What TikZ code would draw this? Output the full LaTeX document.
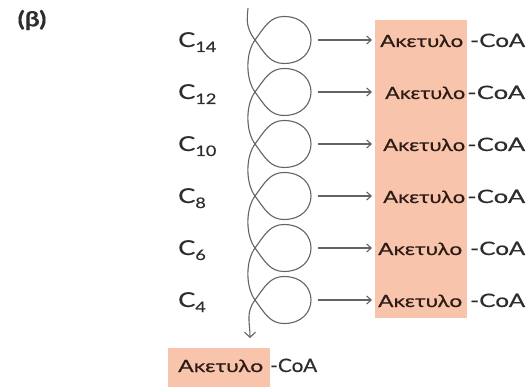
\documentclass[tikz,border=0pt]{standalone}
\usepackage{fontspec}
\setmainfont{Lato}[FakeBold=0.35]
\usepackage{graphicx}
\usetikzlibrary{arrows.meta}

\definecolor{salmon}{RGB}{248,197,172}
\definecolor{linegray}{RGB}{100,100,100}
\definecolor{inkbrown}{RGB}{45,28,22}
\definecolor{inkgray}{RGB}{45,45,45}

% fixed-width words, natural height kept
\newcommand{\acetyl}[1]{\resizebox{#1}{\height}{\fontsize{17}{17}\selectfont Ακετυλο}}
\newcommand{\coa}[1]{\resizebox{#1}{\height}{\fontsize{18.5}{18.5}\selectfont -CoA}}
\newcommand{\carbon}[1]{\scalebox{1.25}[1]{\fontsize{20.5}{20.5}\selectfont C\raisebox{-5pt}{\fontsize{14.5}{14.5}\selectfont #1}}}

\begin{document}
\begin{tikzpicture}[x=1pt,y=-1pt]
\tikzset{
  spiral/.style={draw=linegray, line width=1.1pt},
  barb/.style={draw=linegray, line width=1.1pt, -{Straight Barb[length=4.5pt,width=8pt]}},
  txt/.style={inner sep=0pt, anchor=base west},
  band/.style={fill=salmon, draw=none, inner sep=0pt, anchor=north west},
}
\useasboundingbox (0,0) rectangle (532,387);
\fill[white] (0,0) rectangle (532,387);

% shaded columns behind the products
\node[band, minimum width=92pt, minimum height=298pt] (band) at (375,20) {};
\node[band, minimum width=102pt, minimum height=39pt] (bandlow) at (168,348) {};

% panel label
\node[inner sep=0pt, text=inkgray] (panel) at (32,20) {\scalebox{1.25}[1]{\fontsize{21}{21}\selectfont\bfseries (β)}};

% the looping chain, one turn per two-carbon cut
\coordinate (top) at (248,8);
\coordinate (out) at (250,338);
\draw[spiral, -{Straight Barb[length=5pt,width=11pt]}] (top)
  .. controls (247,20) and (245.5,27) .. (255,40)
  % turn at y=40
  .. controls (264.5,53) and (270,63.5) .. (284,63.5)
  .. controls (320,63.5) and (320,16.5) .. (284,16.5)
  .. controls (270,16.5) and (264.5,27) .. (255,40)
  .. controls (245.5,53) and (245.5,79) .. (255,92)
  % turn at y=92
  .. controls (264.5,105) and (270,115.5) .. (284,115.5)
  .. controls (320,115.5) and (320,68.5) .. (284,68.5)
  .. controls (270,68.5) and (264.5,79) .. (255,92)
  .. controls (245.5,105) and (245.5,131) .. (255,144)
  % turn at y=144
  .. controls (264.5,157) and (270,167.5) .. (284,167.5)
  .. controls (320,167.5) and (320,120.5) .. (284,120.5)
  .. controls (270,120.5) and (264.5,131) .. (255,144)
  .. controls (245.5,157) and (245.5,183) .. (255,196)
  % turn at y=196
  .. controls (264.5,209) and (270,219.5) .. (284,219.5)
  .. controls (320,219.5) and (320,172.5) .. (284,172.5)
  .. controls (270,172.5) and (264.5,183) .. (255,196)
  .. controls (245.5,209) and (245.5,235) .. (255,248)
  % turn at y=248
  .. controls (264.5,261) and (270,271.5) .. (284,271.5)
  .. controls (320,271.5) and (320,224.5) .. (284,224.5)
  .. controls (270,224.5) and (264.5,235) .. (255,248)
  .. controls (245.5,261) and (245.5,287) .. (255,300)
  % turn at y=300
  .. controls (264.5,313) and (270,323.5) .. (284,323.5)
  .. controls (320,323.5) and (320,276.5) .. (284,276.5)
  .. controls (270,276.5) and (264.5,287) .. (255,300)
  .. controls (245.5,313) and (250,322) .. (out);

% chain-length labels, product arrows and products
\foreach \k/\n/\ax/\aw/\cx in {
    1/14/380/83pt/470,
    2/12/385/80pt/467,
    3/10/383/82pt/467,
    4/8/383/82pt/467,
    5/6/378/84pt/470,
    6/4/378/84pt/470} {
  \pgfmathsetmacro{\yy}{40+52*(\k-1)}
  \pgfmathsetmacro{\yb}{\yy+7}
  \pgfmathsetmacro{\cw}{525-\cx}
  \node[txt, text=inkgray] (c\k) at (178,\yb) {\carbon{\n}};
  \coordinate (r\k) at (318,\yy);
  \coordinate (t\k) at (372,\yy);
  \draw[barb] (r\k) -- (t\k);
  \node[txt, text=inkbrown] (ac\k) at (\ax,\yb) {\acetyl{\aw}};
  \node[txt, text=inkgray] (coa\k) at (\cx,\yb) {\coa{\cw pt}};
}

% final acetyl-CoA released at the bottom
\node[txt, text=inkbrown] (acB) at (178,372) {\acetyl{85pt}};
\node[txt, text=inkgray] (coaB) at (270,372) {\coa{47pt}};
\end{tikzpicture}
\end{document}
